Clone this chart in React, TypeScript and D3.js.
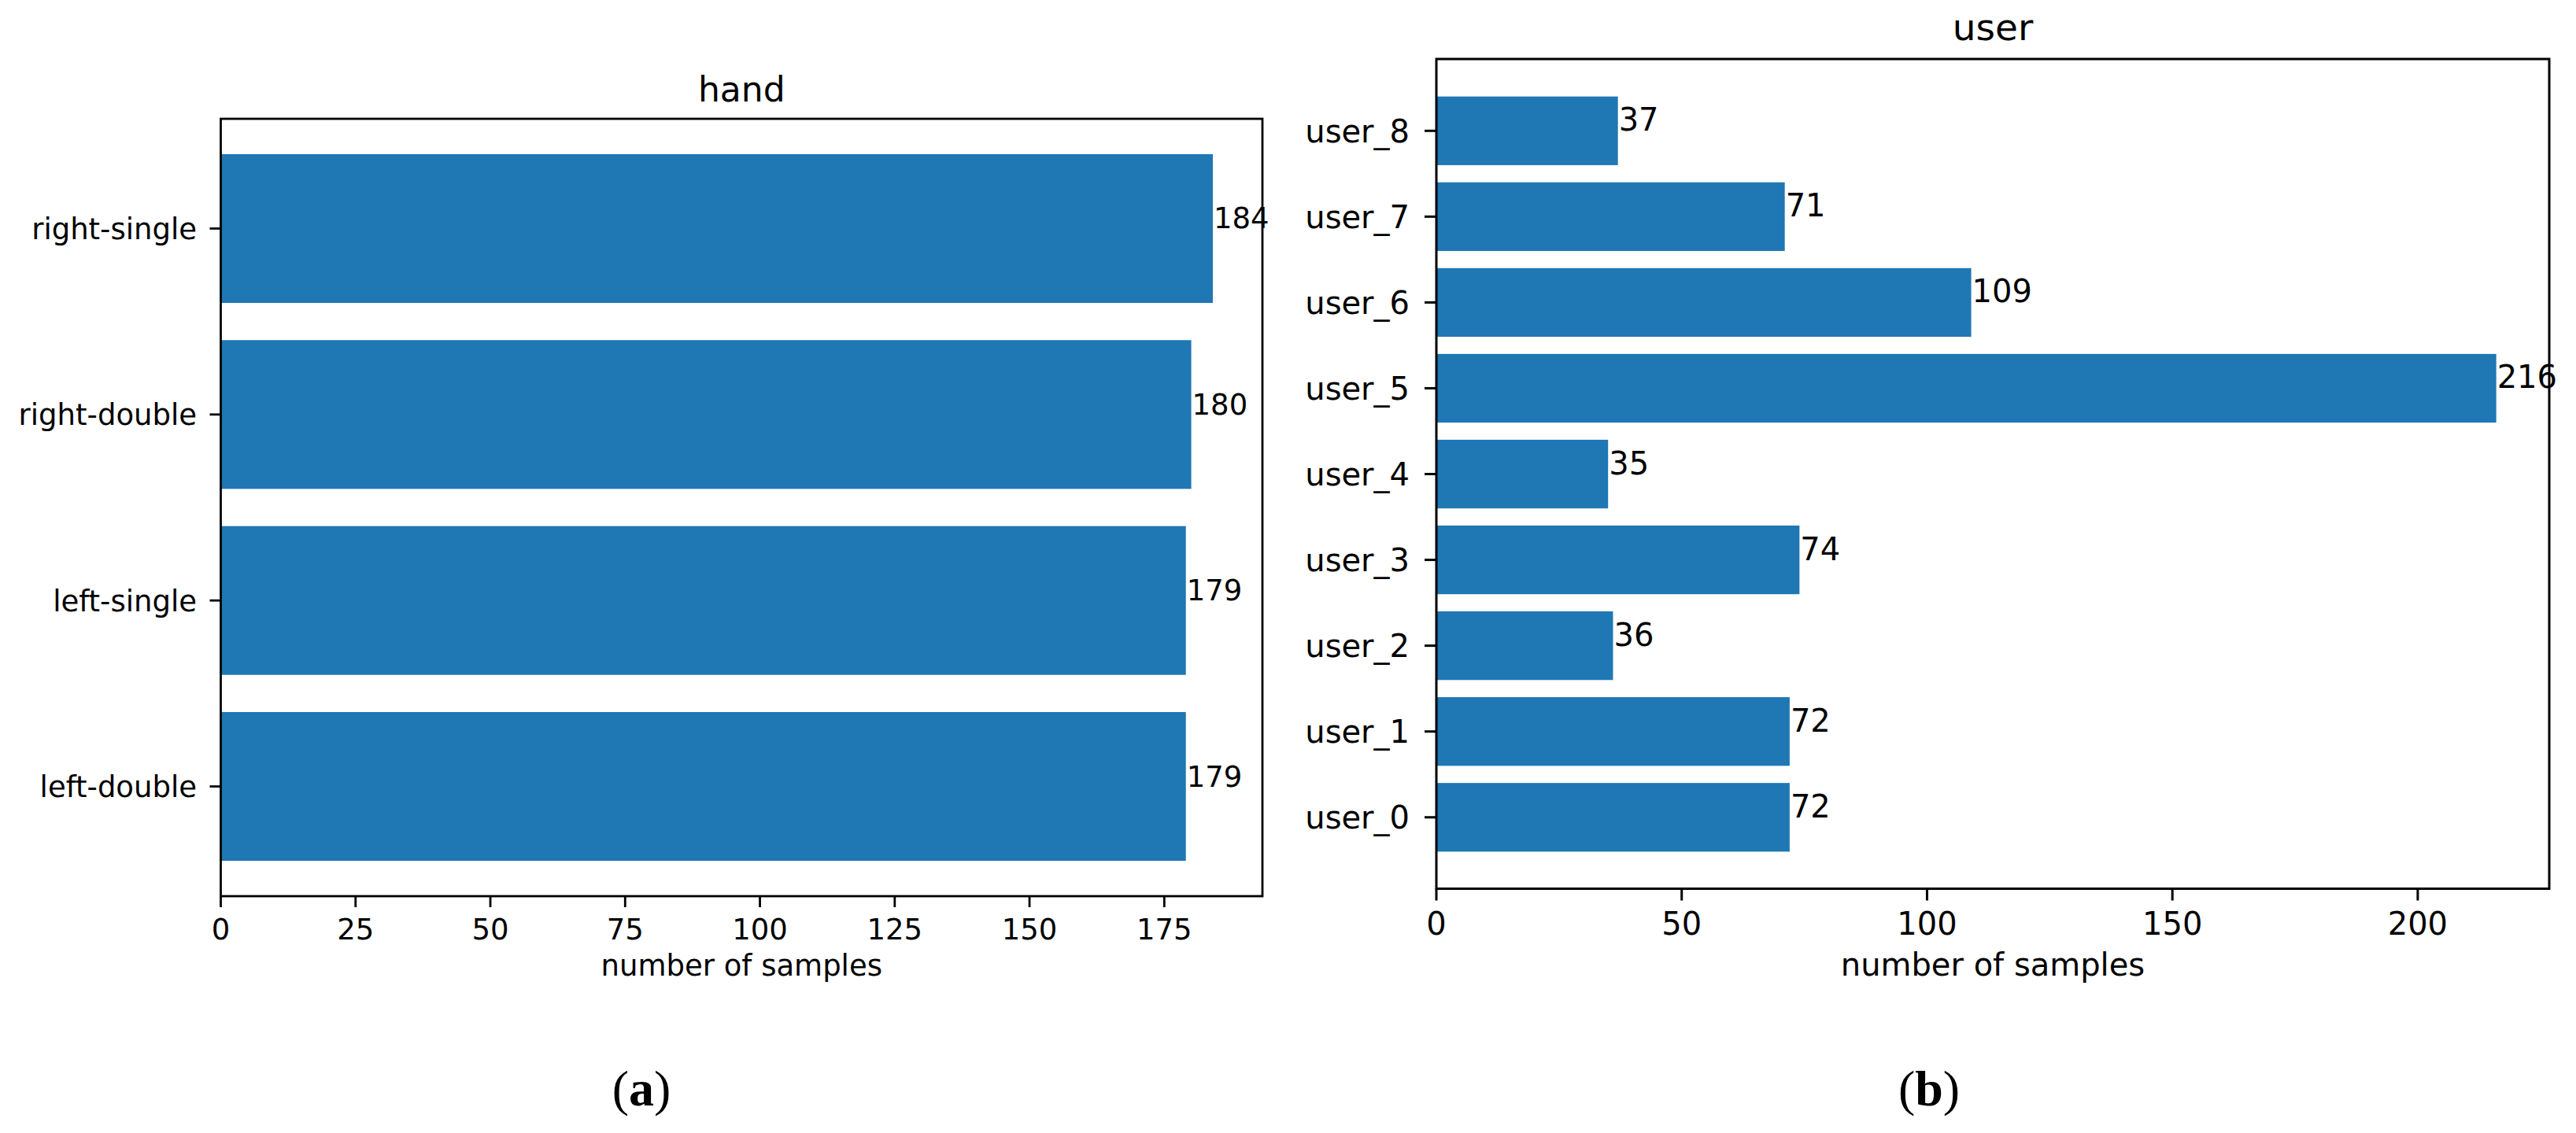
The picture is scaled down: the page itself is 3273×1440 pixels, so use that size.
import React from "react";
import * as d3 from "d3";

const handCategories = ["left-double", "left-single", "right-double", "right-single"];
const handValues = [179, 179, 180, 184];
const handTicks = [0, 25, 50, 75, 100, 125, 150, 175];

const userCategories = ["user_0", "user_1", "user_2", "user_3", "user_4", "user_5", "user_6", "user_7", "user_8"];
const userValues = [72, 72, 36, 74, 35, 216, 109, 71, 37];
const userTicks = [0, 50, 100, 150, 200];

const BAR = "#1f77b4";
const FONT = "'DejaVu Sans', sans-serif";

type PanelProps = {
  title: string;
  cats: string[];
  vals: number[];
  ticks: number[];
  left: number;
  right: number;
  top: number;
  bottom: number;
  xMax: number;
  yLo: number;
  yHi: number;
  fs: number;
  titleFs: number;
  tickLen: number;
  ylabelEnd: number;
  xtickBase: number;
  xlabelBase: number;
  titleBase: number;
  lw: number;
};

function Panel(p: PanelProps) {
  const x = d3.scaleLinear().domain([0, p.xMax]).range([p.left, p.right]);
  const y = d3.scaleLinear().domain([p.yLo, p.yHi]).range([p.bottom, p.top]);
  const bh = Math.abs(y(0.4) - y(-0.4));
  return (
    <g>
      {p.vals.map((v, i) => (
        <rect key={"b" + i} x={x(0)} y={y(i + 0.4)} width={x(v) - x(0)} height={bh} fill={BAR} />
      ))}
      {p.vals.map((v, i) => (
        <text key={"v" + i} x={x(v) + 1} y={y(i)} fontSize={p.fs} fontFamily={FONT} fill="#000">
          {String(v)}
        </text>
      ))}
      <rect x={p.left} y={p.top} width={p.right - p.left} height={p.bottom - p.top} fill="none" stroke="#000" strokeWidth={p.lw} />
      {p.cats.map((c, i) => (
        <g key={"yt" + i}>
          <line x1={p.left - p.tickLen} x2={p.left} y1={y(i)} y2={y(i)} stroke="#000" strokeWidth={p.lw} />
          <text x={p.ylabelEnd} y={y(i) + p.fs * 0.36} textAnchor="end" fontSize={p.fs} fontFamily={FONT} fill="#000">
            {c}
          </text>
        </g>
      ))}
      {p.ticks.map((t, i) => (
        <g key={"xt" + i}>
          <line x1={x(t)} x2={x(t)} y1={p.bottom} y2={p.bottom + p.tickLen} stroke="#000" strokeWidth={p.lw} />
          <text x={x(t)} y={p.xtickBase} textAnchor="middle" fontSize={p.fs} fontFamily={FONT} fill="#000">
            {String(t)}
          </text>
        </g>
      ))}
      <text x={(p.left + p.right) / 2} y={p.xlabelBase} textAnchor="middle" fontSize={p.fs} fontFamily={FONT} fill="#000">
        number of samples
      </text>
      <text x={(p.left + p.right) / 2} y={p.titleBase} textAnchor="middle" fontSize={p.titleFs} fontFamily={FONT} fill="#000">
        {p.title}
      </text>
    </g>
  );
}

export default function App() {
  return (
    <svg width={3273} height={1440} style={{ position: "absolute", left: 0, top: 0, background: "#fff" }}>
      <rect x={0} y={0} width={3273} height={1440} fill="#fff" />
      <Panel
        title="hand"
        cats={handCategories}
        vals={handValues}
        ticks={handTicks}
        left={280.5}
        right={1604}
        top={151}
        bottom={1139}
        xMax={193.2}
        yLo={-0.59}
        yHi={3.59}
        fs={37}
        titleFs={44}
        tickLen={14}
        ylabelEnd={250}
        xtickBase={1194}
        xlabelBase={1240}
        titleBase={129}
        lw={2.8}
      />
      <Panel
        title="user"
        cats={userCategories}
        vals={userValues}
        ticks={userTicks}
        left={1825}
        right={3239}
        top={75}
        bottom={1129.5}
        xMax={226.8}
        yLo={-0.832}
        yHi={8.837}
        fs={40}
        titleFs={47}
        tickLen={15}
        ylabelEnd={1791}
        xtickBase={1188}
        xlabelBase={1240}
        titleBase={51}
        lw={3}
      />
      <text x={815} y={1405} textAnchor="middle" fontSize={64} fontFamily="'Liberation Serif', serif" fill="#000">
        (<tspan fontWeight="bold">a</tspan>)
      </text>
      <text x={2451} y={1405} textAnchor="middle" fontSize={64} fontFamily="'Liberation Serif', serif" fill="#000">
        (<tspan fontWeight="bold">b</tspan>)
      </text>
    </svg>
  );
}
